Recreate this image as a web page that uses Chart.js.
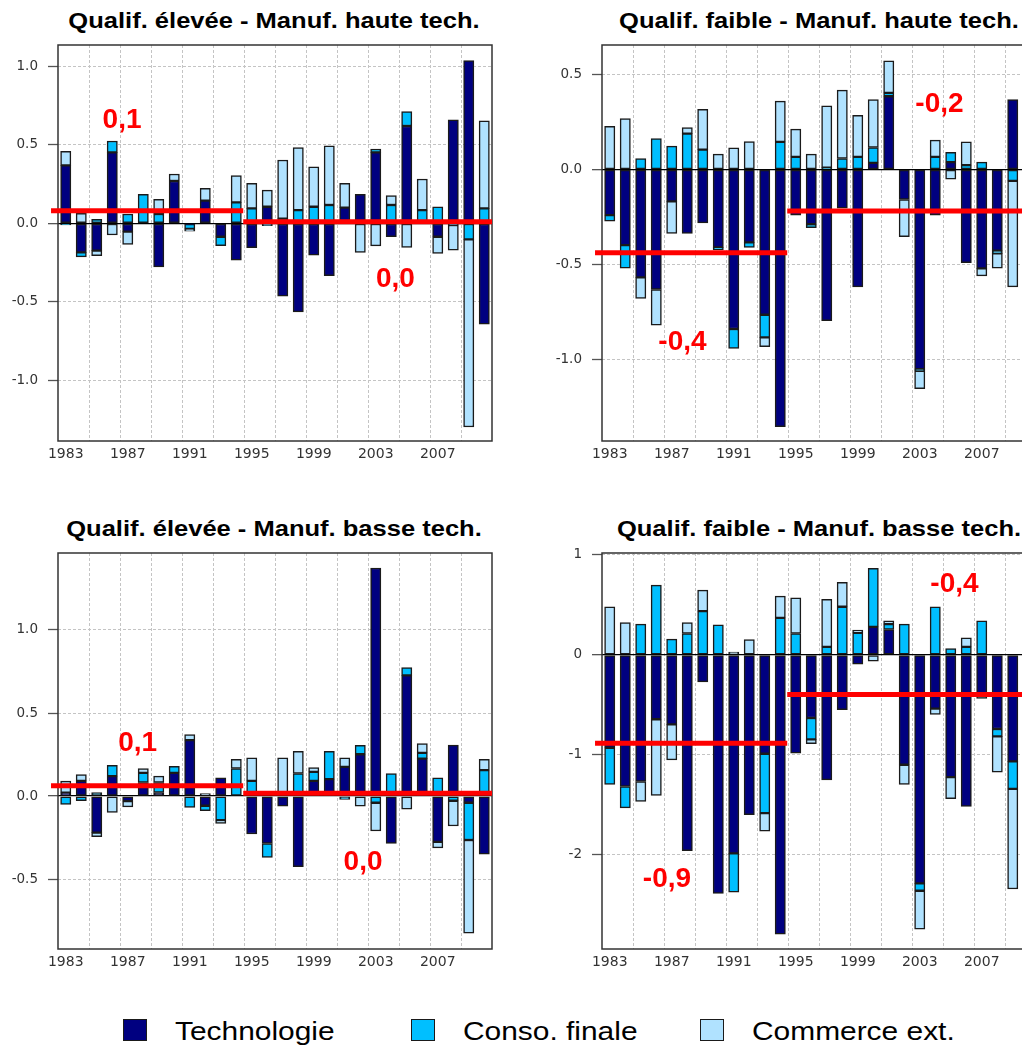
<!DOCTYPE html>
<html><head><meta charset="utf-8">
<script src="https://cdn.jsdelivr.net/npm/chart.js@4/dist/chart.umd.min.js"></script>
<style>
html,body{margin:0;padding:0;width:1022px;height:1048px;overflow:hidden;background:#fff;}
#wrap{position:relative;width:1022px;height:1048px;overflow:hidden;}
canvas{position:absolute;}
.title{position:absolute;font-family:"Liberation Sans",Arial,sans-serif;font-weight:bold;font-size:22px;line-height:22px;white-space:nowrap;color:#000;transform:translateX(-50%) scaleX(1.16);transform-origin:center top;}
.sq{position:absolute;box-sizing:border-box;border:1.5px solid #1a1a1a;width:24px;height:22px;top:1019px;}
.lt{position:absolute;top:1018px;font-family:"Liberation Sans",Arial,sans-serif;font-size:26px;line-height:26px;white-space:nowrap;color:#000;transform:scaleX(1.15);transform-origin:left top;}
</style></head>
<body><div id="wrap">
<div class="title" style="left:274px;top:10px">Qualif. élevée - Manuf. haute tech.</div>
<div class="title" style="left:819px;top:10px">Qualif. faible - Manuf. haute tech.</div>
<div class="title" style="left:274px;top:518px">Qualif. élevée - Manuf. basse tech.</div>
<div class="title" style="left:819px;top:518px">Qualif. faible - Manuf. basse tech.</div>
<canvas id="c1" width="500" height="430" style="left:0px;top:40px"></canvas>
<canvas id="c2" width="500" height="430" style="left:544px;top:40px"></canvas>
<canvas id="c3" width="500" height="430" style="left:0px;top:548px"></canvas>
<canvas id="c4" width="500" height="430" style="left:544px;top:548px"></canvas>
<div id="legend"></div>
</div>
<script>
// ---------- DATA ----------
const years = [1983,1984,1985,1986,1987,1988,1989,1990,1991,1992,1993,1994,1995,1996,1997,1998,1999,2000,2001,2002,2003,2004,2005,2006,2007,2008,2009,2010];
const seriesNames = ['Technologie','Conso. finale','Commerce ext.'];

// Qualif. élevée - Manuf. haute tech.
const tech1  = [0.37,-0.185,-0.174,0.453,-0.053,0.0,-0.277,0.27,-0.005,0.145,-0.085,-0.234,-0.155,0.106,-0.464,-0.564,-0.202,-0.334,0.1,0.185,0.453,-0.085,0.621,0.0,-0.085,0.66,1.038,-0.643];
const conso1 = [-0.01,-0.028,0.026,0.072,0.06,0.185,0.06,0.0,-0.03,0.0,-0.057,0.134,0.096,-0.015,0.03,0.085,0.106,0.117,0.0,0.0,0.021,0.117,0.091,0.085,0.106,-0.01,-0.102,0.096];
const comm1  = [0.09,0.064,-0.032,-0.074,-0.081,0.0,0.094,0.045,-0.015,0.079,0.0,0.17,0.16,0.106,0.374,0.398,0.255,0.377,0.155,-0.185,-0.143,0.06,-0.153,0.198,-0.106,-0.16,-1.196,0.557];

// Qualif. faible - Manuf. haute tech.
const tech2  = [-0.24,-0.398,-0.568,-0.632,-0.168,-0.337,-0.281,-0.41,-0.84,-0.384,-0.765,-1.354,-0.24,-0.288,-0.796,-0.204,-0.618,0.035,0.386,-0.158,-1.051,-0.24,0.039,-0.491,-0.521,-0.428,0.368,null];
const conso2 = [-0.032,-0.121,0.058,0.163,0.123,0.189,0.105,-0.014,-0.102,-0.026,-0.119,0.146,0.067,-0.018,0.01,0.058,0.067,0.081,0.018,0.0,-0.01,0.067,0.051,0.023,0.039,-0.014,-0.06,null];
const comm2  = [0.228,0.268,-0.111,-0.188,-0.168,0.032,0.212,0.081,0.114,0.147,-0.049,0.214,0.146,0.081,0.325,0.36,0.219,0.253,0.168,-0.196,-0.093,0.088,-0.051,0.123,-0.039,-0.077,-0.558,null];

// Qualif. élevée - Manuf. basse tech.
const tech3  = [0.02,0.092,-0.22,0.12,-0.03,0.082,0.022,0.14,0.337,-0.058,0.11,0.0,-0.228,-0.285,-0.06,-0.425,0.092,0.102,0.176,0.252,1.373,-0.285,0.727,0.226,-0.275,0.307,-0.04,-0.349];
const conso3 = [-0.05,-0.028,0.022,0.066,0.0,0.058,0.06,0.04,-0.068,-0.03,-0.144,0.166,0.092,-0.084,0.02,0.136,0.054,0.168,-0.02,0.054,-0.04,0.136,0.046,0.034,0.11,-0.028,-0.224,0.156];
const comm3  = [0.07,0.038,-0.024,-0.098,-0.035,0.026,0.038,0.0,0.034,0.016,-0.02,0.056,0.138,0.0,0.21,0.134,0.026,0.0,0.054,-0.06,-0.17,0.0,-0.078,0.056,-0.036,-0.152,-0.561,0.066];

// Qualif. faible - Manuf. basse tech.
const tech4  = [-0.93,-1.318,-1.268,-0.645,-0.696,-1.96,-0.271,-2.388,-1.987,-1.599,-0.99,-2.796,-0.983,-0.632,-1.251,-0.548,-0.094,0.281,0.254,-1.1,-2.288,-0.538,-1.224,-1.518,-0.4,-0.742,-1.067,null];
const conso4 = [-0.368,-0.214,0.308,0.699,0.157,0.214,0.438,0.3,-0.388,0.0,-0.595,0.371,0.214,-0.214,0.08,0.482,0.221,0.585,0.054,0.308,-0.074,0.482,0.064,0.08,0.341,-0.074,-0.274,null];
const comm4  = [0.482,0.324,-0.2,-0.763,-0.355,0.11,0.211,0.0,0.027,0.154,-0.181,0.217,0.358,-0.043,0.475,0.244,0.027,-0.064,0.033,-0.197,-0.385,-0.057,-0.217,0.09,-0.035,-0.358,-1.003,null];

// period averages (1983-1994 / 1995-2010)
const avgBefore = [0.08,-0.439,0.062,-0.884];
const avgAfter  = [0.01,-0.219,0.018,-0.398];
const avgLabelsBefore = ['0,1','-0,4','0,1','-0,9'];
const avgLabelsAfter  = ['0,0','-0,2','0,0','-0,4'];

// y axis ticks
const yTicks1 = [-1.0,-0.5,0.0,0.5,1.0];  const yLabels1 = ['-1.0','-0.5','0.0','0.5','1.0'];
const yTicks2 = [-1.0,-0.5,0.0,0.5];      const yLabels2 = ['-1.0','-0.5','0.0','0.5'];
const yTicks3 = [-0.5,0.0,0.5,1.0];       const yLabels3 = ['-0.5','0.0','0.5','1.0'];
const yTicks4 = [-2,-1,0,1];              const yLabels4 = ['-2','-1','0','1'];

// ---------- STYLE / LAYOUT ----------
const colors = ['#000080','#00BFFF','#B0E2FF'];
const barEdge = '#1a1a1a';
const gridCol = '#c4c4c4';
const segStart = -0.95, segBreak = 11.45, segEnd = 27.5;

const panels = [
  {id:'c1', series:[tech1,conso1,comm1], yMin:-1.387, yMax:1.137, ticks:yTicks1, tickLabels:yLabels1,
   labPos:[{x:3.63,y:0.611},{x:21.27,y:-0.404}]},
  {id:'c2', series:[tech2,conso2,comm2], yMin:-1.43, yMax:0.656, ticks:yTicks2, tickLabels:yLabels2,
   labPos:[{x:4.69,y:-0.951},{x:21.27,y:0.303}]},
  {id:'c3', series:[tech3,conso3,comm3], yMin:-0.92, yMax:1.463, ticks:yTicks3, tickLabels:yLabels3,
   labPos:[{x:4.64,y:0.272},{x:19.18,y:-0.445}]},
  {id:'c4', series:[tech4,conso4,comm4], yMin:-2.945, yMax:1.02, ticks:yTicks4, tickLabels:yLabels4,
   labPos:[{x:3.69,y:-2.322},{x:22.24,y:0.633}]}
];

const framePlugin = {
  id:'frame',
  beforeDatasetsDraw(chart){
    const a = chart.chartArea, ctx = chart.ctx;
    ctx.save();
    ctx.strokeStyle = '#333'; ctx.lineWidth = 1.5;
    ctx.strokeRect(a.left, a.top, a.right - a.left, a.bottom - a.top);
    ctx.restore();
  }
};
const avgLabelPlugin = {
  id:'avgLabels',
  afterDatasetsDraw(chart, args, opts){
    const ctx = chart.ctx, xs = chart.scales.xl, ys = chart.scales.y;
    ctx.save();
    ctx.fillStyle = '#FF0000';
    ctx.font = 'bold 28px "Liberation Sans", Arial, sans-serif';
    ctx.textAlign = 'center'; ctx.textBaseline = 'alphabetic';
    (opts.items || []).forEach(it => {
      ctx.fillText(it.text, xs.getPixelForValue(it.x), ys.getPixelForValue(it.y));
    });
    ctx.restore();
  }
};

panels.forEach((p, k) => {
  const barSets = p.series.map((d, i) => ({
    type:'bar', label: seriesNames[i], data: d,
    backgroundColor: colors[i], borderColor: barEdge, borderWidth: 1.5, borderSkipped: false,
    grouped: false, barThickness: 10.3, stack: 'bars', order: 1,
    xAxisID: 'x', yAxisID: 'y'
  }));
  const lineSets = [
    {type:'line', label:'avg1', data:[{x:segStart,y:avgBefore[k]},{x:segBreak,y:avgBefore[k]}], stack:'avgA'},
    {type:'line', label:'avg2', data:[{x:segBreak,y:avgAfter[k]},{x:segEnd,y:avgAfter[k]}], stack:'avgB'}
  ].map(s => Object.assign(s, {borderColor:'#FF0000', backgroundColor:'#FF0000', borderWidth:5, pointRadius:0,
    fill:false, order:0, clip:false, xAxisID:'xl', yAxisID:'y', borderCapStyle:'butt'}));

  new Chart(document.getElementById(p.id), {
    type: 'bar',
    data: { labels: years.map(String), datasets: [...lineSets, ...barSets] },
    options: {
      responsive:false, animation:false,
      layout:{padding:{top:5,right:8,bottom:4,left:0}},
      plugins:{ legend:{display:false}, tooltip:{enabled:false}, title:{display:false},
        avgLabels:{ items:[
          {text:avgLabelsBefore[k], x:p.labPos[0].x, y:p.labPos[0].y},
          {text:avgLabelsAfter[k],  x:p.labPos[1].x, y:p.labPos[1].y}
        ]}
      },
      scales:{
        x:{
          type:'category', stacked:true, offset:true,
          afterFit:s=>{ s.height = 25; s.paddingLeft = 0; s.paddingRight = 0; },
          ticks:{ autoSkip:false, maxRotation:0, minRotation:0, padding:5, color:'#333',
            font:{family:'"DejaVu Sans"', size:14},
            callback:(v,i)=> (i % 4 === 0 ? String(years[i]) : '') },
          grid:{ offset:true, drawTicks:false,
            color:c => (c.index % 2 === 0 && c.index > 0 && c.index < years.length) ? gridCol : 'rgba(0,0,0,0)' },
          border:{ display:false, dash:[3,2] }
        },
        xl:{ type:'linear', display:false, min:-0.5, max:27.5, offset:false },
        y:{
          type:'linear', stacked:true, min:p.yMin, max:p.yMax,
          afterBuildTicks:s=>{ s.ticks = p.ticks.map(v=>({value:v})); },
          afterFit:s=>{ s.width = 58; s.paddingTop = 0; s.paddingBottom = 0; },
          ticks:{ autoSkip:false, padding:10, color:'#333', font:{family:'"DejaVu Sans"', size:13.5},
            callback:(v)=> p.tickLabels[p.ticks.indexOf(v)] },
          grid:{ tickLength:10, tickColor:'#555', tickWidth:1.3, tickBorderDash:[],
            color:c => (c.tick && c.tick.value === 0) ? '#000' : gridCol,
            lineWidth:c => (c.tick && c.tick.value === 0) ? 1.3 : 1 },
          border:{ display:false, dash:c => (c.tick && c.tick.value === 0) ? [] : [3,2] }
        }
      }
    },
    plugins:[framePlugin, avgLabelPlugin]
  });
});

// ---------- LEGEND (HTML) ----------
const legPos = [{sq:123, tx:175},{sq:411, tx:463},{sq:700, tx:752}];
const leg = document.getElementById('legend');
seriesNames.forEach((n,i)=>{
  const s = document.createElement('div'); s.className='sq';
  s.style.left = legPos[i].sq+'px'; s.style.background = colors[i];
  const t = document.createElement('div'); t.className='lt';
  t.style.left = legPos[i].tx+'px'; t.textContent = n;
  leg.appendChild(s); leg.appendChild(t);
});
</script>
</body></html>
